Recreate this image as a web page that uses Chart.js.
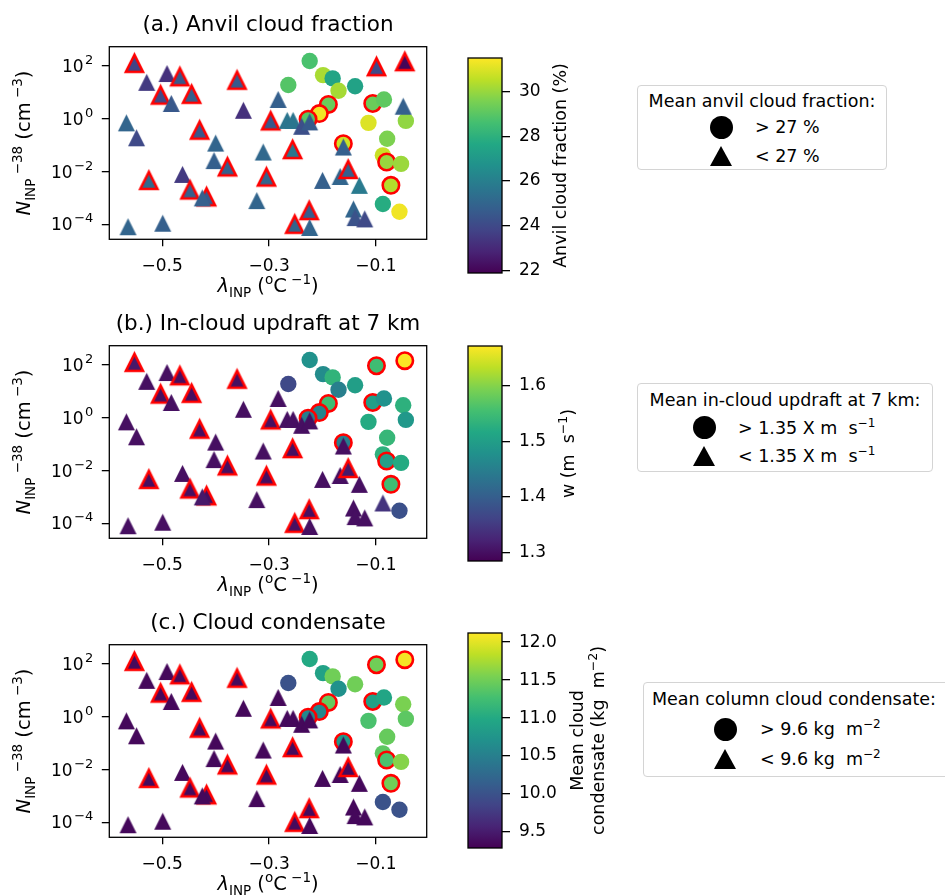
<!DOCTYPE html>
<html>
<head>
<meta charset="utf-8">
<title>INP sensitivity panels</title>
<script src="https://cdn.jsdelivr.net/npm/chart.js@4.4.1/dist/chart.umd.min.js"></script>
<style>
  body { margin: 0; background: #fff; font-family: "DejaVu Sans", sans-serif; color: #000; }
  #page { position: relative; width: 945px; height: 895px; overflow: hidden; }
  canvas { position: absolute; }
  .leg { position: absolute; border: 1.3px solid #d4d4d4; border-radius: 4px; font-size: 17.5px; box-sizing: border-box; background: #fff; }
  .leg div { position: absolute; white-space: pre; line-height: 20px; }
  .leg .dot { width: 23px; height: 23px; border-radius: 50%; background: #000; }
  .leg .tri { width: 0; height: 0; border-left: 11.5px solid transparent; border-right: 11.5px solid transparent; border-bottom: 20px solid #000; }
  sup { font-size: 12px; vertical-align: 7px; line-height: 0; }
</style>
</head>
<body>
<div id="page">
  <div class="leg" style="left:637px;top:85px;width:250px;height:85px">
    <div style="left:0;top:5px;width:100%;text-align:center">Mean anvil cloud fraction:</div>
    <div class="dot" style="left:72px;top:30px"></div>
    <div style="left:117px;top:31px">&gt; 27 %</div>
    <div class="tri" style="left:72px;top:60px"></div>
    <div style="left:117px;top:60px">&lt; 27 %</div>
  </div>
  <div class="leg" style="left:637px;top:383px;width:296px;height:89px">
    <div style="left:0;top:6px;width:100%;text-align:center">Mean in-cloud updraft at 7 km:</div>
    <div class="dot" style="left:55px;top:32px"></div>
    <div style="left:100px;top:34px">&gt; 1.35 X m  s<sup>−1</sup></div>
    <div class="tri" style="left:55px;top:62px"></div>
    <div style="left:100px;top:62px">&lt; 1.35 X m  s<sup>−1</sup></div>
  </div>
  <div class="leg" style="left:643px;top:682px;width:310px;height:95px">
    <div style="left:8px;top:6px">Mean column cloud condensate:</div>
    <div class="dot" style="left:70px;top:35px"></div>
    <div style="left:116px;top:36px">&gt; 9.6 kg  m<sup>−2</sup></div>
    <div class="tri" style="left:70px;top:66px"></div>
    <div style="left:116px;top:66px">&lt; 9.6 kg  m<sup>−2</sup></div>
  </div>
</div>
<script>
// ---- data (same ensemble members in every panel) ----
const lambdaInp = [
  -0.552, -0.529, -0.491, -0.467, -0.503, -0.483, -0.445, -0.567, -0.548, -0.430,
  -0.400, -0.403, -0.378, -0.360, -0.348, -0.525, -0.462, -0.448, -0.417, -0.425,
  -0.564, -0.499, -0.323, -0.311, -0.305, -0.297, -0.283, -0.266, -0.255, -0.239,
  -0.224, -0.256, -0.252, -0.225, -0.224, -0.200, -0.167, -0.161, -0.152, -0.131,
  -0.142, -0.139, -0.121, -0.099, -0.046, -0.049,
  -0.224, -0.264, -0.199, -0.181, -0.170, -0.139, -0.189, -0.206, -0.227, -0.106,
  -0.085, -0.114, -0.044, -0.079, -0.161, -0.087, -0.080, -0.053, -0.072, -0.087, -0.056
];
const nInp = [
  126, 24, 52, 39, 7.9, 3.8, 8.5, 0.70, 0.19, 0.37,
  0.12, 0.026, 0.015, 29, 2.1, 0.0046, 0.0078, 0.0020, 0.0011, 0.0010,
  8.1e-5, 1.1e-4, 7.9e-4, 0.055, 0.0062, 0.83, 5.4, 0.87, 0.87, 0.52,
  0.76, 0.068, 1.0e-4, 3.3e-4, 7.6e-5, 0.0046, 0.0065, 0.085, 0.012, 0.0030,
  3.8e-4, 1.8e-4, 1.6e-4, 94, 146, 3.0,
  155, 19, 45, 34, 11.5, 17, 3.5, 1.58, 0.96, 3.8,
  5.4, 0.70, 0.83, 0.176, 0.114, 0.041, 0.023, 0.0195, 0.0030, 5.9e-4, 3.0e-4
];
const redEdge = [
  1, 0, 0, 1, 1, 0, 1, 0, 0, 1,
  0, 0, 1, 1, 0, 1, 0, 1, 1, 0,
  0, 0, 0, 0, 1, 1, 0, 0, 0, 0,
  0, 1, 1, 1, 0, 0, 0, 0, 1, 0,
  0, 0, 0, 1, 1, 0,
  0, 0, 0, 0, 0, 0, 1, 1, 1, 1,
  0, 0, 0, 0, 1, 0, 1, 0, 1, 0, 0
];
const anvilFrac = [
  23.8, 23.5, 23.2, 24.5, 24.0, 24.5, 24.8, 25.0, 24.0, 24.5,
  25.0, 24.8, 24.8, 24.6, 23.2, 25.2, 23.5, 24.8, 24.6, 24.8,
  25.0, 24.8, 25.0, 25.1, 25.0, 24.5, 24.8, 25.6, 25.6, 24.2,
  24.6, 25.7, 25.0, 24.7, 25.0, 24.8, 25.0, 24.8, 24.8, 25.8,
  25.0, 24.3, 24.0, 24.0, 22.0, 24.8,
  28.7, 28.9, 30.25, 27.5, 30.2, 27.4, 29.3, 31.3, 29.0, 29.3,
  29.1, 31.0, 29.9, 29.6, 30.8, 30.7, 30.0, 30.05, 30.4, 27.8, 31.3
];
const updraft7km = [
  1.31, 1.30, 1.30, 1.30, 1.30, 1.30, 1.30, 1.30, 1.30, 1.30,
  1.30, 1.30, 1.30, 1.30, 1.30, 1.30, 1.30, 1.30, 1.30, 1.31,
  1.30, 1.30, 1.30, 1.30, 1.30, 1.30, 1.30, 1.30, 1.30, 1.30,
  1.30, 1.30, 1.30, 1.30, 1.30, 1.30, 1.30, 1.30, 1.31, 1.30,
  1.30, 1.30, 1.30, 1.55, 1.67, 1.53,
  1.48, 1.37, 1.47, 1.535, 1.45, 1.50, 1.55, 1.46, 1.45, 1.50,
  1.48, 1.52, 1.49, 1.54, 1.45, 1.53, 1.50, 1.52, 1.55, 1.343, 1.38
];
const condensate = [
  9.36, 9.35, 9.35, 9.36, 9.35, 9.35, 9.36, 9.35, 9.35, 9.36,
  9.35, 9.35, 9.36, 9.36, 9.35, 9.36, 9.35, 9.36, 9.36, 9.35,
  9.35, 9.35, 9.35, 9.35, 9.36, 9.36, 9.35, 9.35, 9.35, 9.35,
  9.35, 9.36, 9.36, 9.36, 9.35, 9.35, 9.35, 9.35, 9.36, 9.35,
  9.35, 9.35, 9.35, 11.5, 12.08, 11.55,
  11.0, 10.0, 10.9, 11.5, 10.7, 11.5, 11.45, 10.6, 10.6, 10.9,
  10.95, 11.3, 11.4, 11.45, 10.8, 11.4, 11.3, 11.6, 11.5, 10.0, 10.0
];
const xLimits = [-0.599, -0.005];
const yLimits = [2.7e-5, 540];
const xTicks = [-0.5, -0.3, -0.1];
const yTicks = [1e-4, 1e-2, 1, 1e2];
const yTickPowers = ['\u22124', '\u22122', '0', '2'];
const anvilRange = [21.88, 31.5];
const updraftRange = [1.285, 1.671];
const condRange = [9.29, 12.12];
const anvilTicks = [22, 24, 26, 28, 30];
const updraftTicks = [1.3, 1.4, 1.5, 1.6];
const condTicks = [9.5, 10, 10.5, 11, 11.5, 12];
const anvilSplit = 27, updraftSplit = 1.35, condSplit = 9.6;

// ---- helpers ----
const FONT = 'DejaVu Sans';
Chart.defaults.font.family = FONT;
Chart.defaults.color = '#000';

const VIRIDIS = ['#440154', '#482475', '#414487', '#355f8d', '#2a788e', '#21918c',
                 '#22a884', '#44bf70', '#7ad151', '#bddf26', '#fde725'];
function hexRgb(h) { return [1, 3, 5].map(i => parseInt(h.substr(i, 2), 16)); }
function viridis(t) {
  t = Math.max(0, Math.min(1, t));
  const s = t * 10, i = Math.min(9, Math.floor(s)), f = s - i;
  const a = hexRgb(VIRIDIS[i]), b = hexRgb(VIRIDIS[i + 1]);
  return 'rgb(' + a.map((v, k) => Math.round(v + (b[k] - v) * f)).join(',') + ')';
}

// text made of pieces (for sub/superscripts); align 'center' or 'right'
function richText(ctx, parts, x, y, rot, align) {
  ctx.save();
  ctx.translate(x, y);
  ctx.rotate(rot);
  ctx.fillStyle = '#000';
  ctx.textBaseline = 'alphabetic';
  const fnt = p => (p.i ? 'italic ' : '') + (p.s || 19.5) + 'px "' + FONT + '"';
  let w = 0;
  parts.forEach(p => { ctx.font = fnt(p); w += ctx.measureText(p.t).width + (p.gap || 0); });
  let cx = align === 'right' ? -w : -w / 2;
  parts.forEach(p => {
    ctx.font = fnt(p);
    cx += p.gap || 0;
    ctx.fillText(p.t, cx, (p.base || 7) + (p.dy || 0));
    cx += ctx.measureText(p.t).width;
  });
  ctx.restore();
}

// matplotlib-like '^' marker: width == height, centred on its box
const triCache = {};
function triImage(col, red) {
  const key = col + '|' + red;
  if (triCache[key]) return triCache[key];
  const S = 17, pad = 5, n = S + 2 * pad;
  const c = document.createElement('canvas');
  c.width = n; c.height = n;
  const g = c.getContext('2d');
  g.beginPath();
  g.moveTo(n / 2, pad); g.lineTo(pad, pad + S); g.lineTo(pad + S, pad + S); g.closePath();
  g.fillStyle = col; g.fill();
  if (red) { g.lineWidth = 2.6; g.strokeStyle = '#ff0000'; g.lineJoin = 'miter'; g.stroke(); }
  triCache[key] = c;
  return c;
}

function addCanvas(left, top, w, h) {
  const c = document.createElement('canvas');
  c.width = w; c.height = h;
  c.style.left = left + 'px'; c.style.top = top + 'px';
  document.getElementById('page').appendChild(c);
  return c;
}

const xTitle = [{ t: '\u03BB', i: true }, { t: 'INP', s: 13.5, dy: 5 }, { t: ' (' },
                { t: 'o', s: 13.5, dy: -8 }, { t: 'C' }, { t: ' \u22121', s: 13.5, dy: -8 }, { t: ')' }];
const yTitle = [{ t: 'N', i: true }, { t: 'INP', s: 13.5, dy: 5 }, { t: ' \u221238', s: 13.5, dy: -8 },
                { t: ' (cm' }, { t: ' \u22123', s: 13.5, dy: -8 }, { t: ')' }];

const panels = [
  { top: 0, h: 300, title: '(a.) Anvil cloud fraction', vals: anvilFrac, split: anvilSplit,
    range: anvilRange, ticks: anvilTicks, dec: 0, cbTop: 58.3,
    cbLabel: [{ x: 120, parts: [{ t: 'Anvil cloud fraction (%)', s: 17.5, base: 6 }] }] },
  { top: 299, h: 300, title: '(b.) In-cloud updraft at 7 km', vals: updraft7km, split: updraftSplit,
    range: updraftRange, ticks: updraftTicks, dec: 1, cbTop: 345.7,
    cbLabel: [{ x: 128, parts: [{ t: 'w (m  s', s: 17.5, base: 6 }, { t: '\u22121', s: 12.5, dy: -7, base: 6 },
                                { t: ')', s: 17.5, base: 6 }] }] },
  { top: 598, h: 297, title: '(c.) Cloud condensate', vals: condensate, split: condSplit,
    range: condRange, ticks: condTicks, dec: 1, cbTop: 632.7,
    cbLabel: [{ x: 137, parts: [{ t: 'Mean cloud', s: 17.5, base: 6 }] },
              { x: 158, parts: [{ t: 'condensate (kg  m', s: 17.5, base: 6 }, { t: '\u22122', s: 12.5, dy: -7, base: 6 },
                                { t: ')', s: 17.5, base: 6 }] }] }
];

function scatterPanel(p) {
  const cv = addCanvas(0, p.top, 440, p.h);
  const circles = [], triangles = [];
  lambdaInp.forEach((x, i) => {
    const pt = { x: x, y: nInp[i], v: p.vals[i], red: redEdge[i] };
    (p.vals[i] > p.split ? circles : triangles).push(pt);
  });
  const fill = c => c.raw ? viridis((c.raw.v - p.range[0]) / (p.range[1] - p.range[0])) : '#000';
  const edge = c => (c.raw && c.raw.red) ? '#ff0000' : 'rgba(0,0,0,0)';
  const edgeW = c => (c.raw && c.raw.red) ? 2.6 : 0;
  const tickFont = { family: FONT, size: 17 };

  new Chart(cv, {
    type: 'scatter',
    data: {
      datasets: [
        { label: 'above', data: circles, pointStyle: 'circle', pointRadius: 8.2,
          pointBackgroundColor: fill, pointBorderColor: edge, pointBorderWidth: edgeW, order: 2 },
        { label: 'below', data: triangles, pointRadius: 8.5,
          pointStyle: c => c.raw ? triImage(fill(c), c.raw.red) : 'triangle',
          pointBackgroundColor: fill, pointBorderWidth: 0, order: 1 }
      ]
    },
    options: {
      responsive: false, animation: false, events: [],
      layout: { padding: { left: 0, top: 46.7, right: 13.3, bottom: 0 } },
      plugins: { legend: { display: false }, tooltip: { enabled: false } },
      scales: {
        x: {
          type: 'linear', min: xLimits[0], max: xLimits[1],
          afterBuildTicks: s => { s.ticks = xTicks.map(v => ({ value: v })); },
          afterFit: s => { s.height = p.h - 239.3; },
          ticks: { font: tickFont, color: '#000', padding: 10, maxRotation: 0,
                   callback: v => v.toFixed(1).replace('-', '\u2212') },
          grid: { drawOnChartArea: false, drawTicks: true, tickLength: 7, color: '#000', lineWidth: 1.3 },
          border: { display: false }
        },
        y: {
          type: 'logarithmic', min: yLimits[0], max: yLimits[1],
          afterBuildTicks: s => { s.ticks = yTicks.map(v => ({ value: v, major: true })); },
          afterFit: s => { s.width = 109.3; },
          ticks: { font: tickFont, color: '#000', padding: 2, callback: () => '' },
          grid: { drawOnChartArea: false, drawTicks: true, tickLength: 7.5, color: '#000', lineWidth: 1.3 },
          border: { display: false }
        }
      }
    },
    plugins: [{
      id: 'frameAndTitles',
      afterDatasetsDraw(chart) {
        const a = chart.chartArea, ctx = chart.ctx;
        ctx.save();
        ctx.strokeStyle = '#000'; ctx.lineWidth = 1.3;
        ctx.strokeRect(a.left, a.top, a.right - a.left, a.bottom - a.top);
        ctx.restore();
      },
      afterDraw(chart) {
        const a = chart.chartArea, ctx = chart.ctx, cx = (a.left + a.right) / 2;
        const ys = chart.scales.y;
        // log tick labels as 10 with a raised power
        yTicks.forEach((v, i) => {
          richText(ctx, [{ t: '10', s: 17, base: 6 }, { t: yTickPowers[i], s: 13, dy: -8, gap: 1.5, base: 6 }],
                   a.left - 16, ys.getPixelForValue(v), 0, 'right');
        });
        richText(ctx, [{ t: p.title, s: 21.5 }], cx, a.top - 23, 0);
        richText(ctx, xTitle, cx, a.bottom + 46, 0);
        richText(ctx, yTitle, 23, (a.top + a.bottom) / 2, -Math.PI / 2);
      }
    }]
  });
}

function colorbar(p) {
  const cv = addCanvas(440, p.cbTop - 20, 200, 255);
  new Chart(cv, {
    type: 'bar',
    data: {
      labels: [''],
      datasets: [{
        data: [[p.range[0], p.range[1]]],
        backgroundColor: c => {
          const a = c.chart.chartArea;
          if (!a) return '#000';
          const g = c.chart.ctx.createLinearGradient(0, a.bottom, 0, a.top);
          VIRIDIS.forEach((col, i) => g.addColorStop(i / 10, col));
          return g;
        },
        borderWidth: 0, barPercentage: 1, categoryPercentage: 1
      }]
    },
    options: {
      responsive: false, animation: false, events: [],
      layout: { padding: { left: 28, top: 20, right: 0, bottom: 20 } },
      plugins: { legend: { display: false }, tooltip: { enabled: false } },
      scales: {
        x: { display: false },
        y: {
          position: 'right', min: p.range[0], max: p.range[1],
          afterBuildTicks: s => { s.ticks = p.ticks.map(v => ({ value: v })); },
          afterFit: s => { s.width = 138; },
          ticks: { font: { family: FONT, size: 17 }, color: '#000', padding: 9,
                   callback: v => v.toFixed(p.dec) },
          grid: { drawOnChartArea: false, drawTicks: true, tickLength: 8, color: '#000', lineWidth: 1.3 },
          border: { display: false }
        }
      }
    },
    plugins: [{
      id: 'cbFrame',
      afterDraw(chart) {
        const a = chart.chartArea, ctx = chart.ctx;
        ctx.save();
        ctx.strokeStyle = '#000'; ctx.lineWidth = 1.3;
        ctx.strokeRect(a.left, a.top, a.right - a.left, a.bottom - a.top);
        ctx.restore();
        p.cbLabel.forEach(l => richText(ctx, l.parts, l.x, (a.top + a.bottom) / 2, -Math.PI / 2));
      }
    }]
  });
}

panels.forEach(p => { scatterPanel(p); colorbar(p); });
</script>
</body>
</html>
